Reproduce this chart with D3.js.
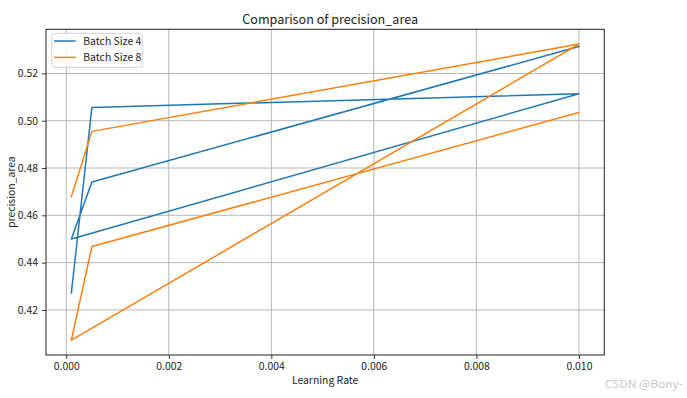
<!DOCTYPE html>
<html>
<head>
<meta charset="utf-8">
<script src="https://cdn.jsdelivr.net/npm/d3@7"></script>
<style>
html,body{margin:0;padding:0;background:#fff;}
svg{display:block;}
text{font-family:"Noto Sans CJK SC","Noto Sans",sans-serif;fill:#222;}
</style>
</head>
<body>
<svg id="chart" width="687" height="398"></svg>
<script>
const learningRates = [0.0001, 0.0005, 0.01, 0.0001, 0.0005, 0.01];
const batch4 = [0.4272, 0.5056, 0.5114, 0.4500, 0.4741, 0.5314];
const batch8 = [0.4679, 0.4955, 0.5324, 0.4072, 0.4468, 0.5035];
const seriesNames = ["Batch Size 4", "Batch Size 8"];
const seriesColors = ["#1f77b4", "#ff7f0e"];
const xTicks = [0.000, 0.002, 0.004, 0.006, 0.008, 0.010];
const yTicks = [0.42, 0.44, 0.46, 0.48, 0.50, 0.52];
const titleText = "Comparison of precision_area";
const xLabel = "Learning Rate";
const yLabel = "precision_area";
const watermark = "CSDN @Bony-";

const svg = d3.select("#chart");
const L = 46, R = 604.3, T = 29.3, B = 355;
const FS = 10.4;

const allY = batch4.concat(batch8);
const xMin = d3.min(learningRates), xMax = d3.max(learningRates);
const yMin = d3.min(allY), yMax = d3.max(allY);
const xm = (xMax - xMin) * 0.05, ym = (yMax - yMin) * 0.05;
const x = d3.scaleLinear().domain([xMin - xm, xMax + xm]).range([L, R]);
const y = d3.scaleLinear().domain([yMin - ym, yMax + ym]).range([B, T]);

// grid
const grid = svg.append("g");
xTicks.forEach(t => grid.append("line")
  .attr("x1", x(t)).attr("x2", x(t)).attr("y1", T).attr("y2", B)
  .attr("stroke", "#b0b0b0").attr("stroke-width", 0.9));
yTicks.forEach(t => grid.append("line")
  .attr("x1", L).attr("x2", R).attr("y1", y(t)).attr("y2", y(t))
  .attr("stroke", "#b0b0b0").attr("stroke-width", 0.9));

// lines
const line = d3.line().x(d => x(d[0])).y(d => y(d[1]));
[batch4, batch8].forEach((vals, i) => {
  svg.append("path")
    .datum(learningRates.map((lr, j) => [lr, vals[j]]))
    .attr("d", line)
    .attr("fill", "none")
    .attr("stroke", seriesColors[i])
    .attr("stroke-width", 1.5)
    .attr("stroke-linejoin", "round")
    .attr("stroke-linecap", "square");
});

// axes
const xAxis = d3.axisBottom(x).tickValues(xTicks).tickFormat(d3.format(".3f")).tickSizeOuter(0).tickSize(4).tickPadding(4);
const yAxis = d3.axisLeft(y).tickValues(yTicks).tickFormat(d3.format(".2f")).tickSizeOuter(0).tickSize(4).tickPadding(4);
const gx = svg.append("g").attr("transform", `translate(0,${B})`).call(xAxis);
const gy = svg.append("g").attr("transform", `translate(${L},0)`).call(yAxis);
[gx, gy].forEach(g => {
  g.select(".domain").remove();
  g.selectAll(".tick line").attr("stroke", "#222").attr("stroke-width", 0.9);
  g.selectAll(".tick text").attr("font-size", FS).attr("font-family", "Noto Sans CJK SC").attr("fill", "#222");
});

// frame
svg.append("rect").attr("x", L).attr("y", T).attr("width", R - L).attr("height", B - T)
  .attr("fill", "none").attr("stroke", "#222").attr("stroke-width", 1);

// title & labels
svg.append("text").attr("x", (L + R) / 2 + 5).attr("y", 23.5).attr("text-anchor", "middle")
  .attr("font-size", 12.6).text(titleText);
svg.append("text").attr("x", (L + R) / 2).attr("y", 384).attr("text-anchor", "middle")
  .attr("font-size", FS).text(xLabel);
svg.append("text").attr("transform", `translate(15,${(T + B) / 2}) rotate(-90)`)
  .attr("text-anchor", "middle").attr("font-size", FS).text(yLabel);

// legend
const lg = svg.append("g");
lg.append("rect").attr("x", 51.7).attr("y", 33.3).attr("width", 90.6).attr("height", 34)
  .attr("rx", 2.5).attr("fill", "#fff").attr("fill-opacity", 0.8)
  .attr("stroke", "#d0d0d0").attr("stroke-width", 0.9);
seriesNames.forEach((n, i) => {
  const yy = 41 + i * 16.4;
  lg.append("line").attr("x1", 54).attr("x2", 75.7).attr("y1", yy).attr("y2", yy)
    .attr("stroke", seriesColors[i]).attr("stroke-width", 1.5);
  lg.append("text").attr("x", 83.3).attr("y", yy + 3.7).attr("font-size", FS).text(n);
});

// watermark
svg.append("text").attr("x", 605).attr("y", 388)
  .attr("font-size", 11).attr("textLength", 78).attr("lengthAdjust", "spacingAndGlyphs")
  .style("fill", "#c8c8c8").text(watermark);
</script>
</body>
</html>
